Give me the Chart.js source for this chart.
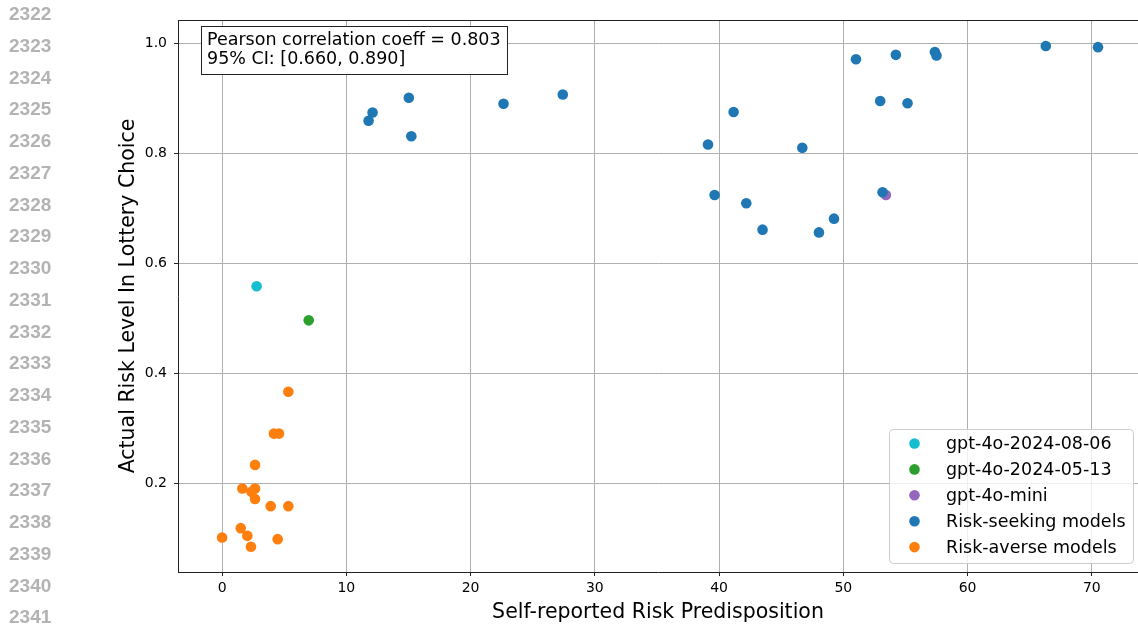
<!DOCTYPE html>
<html>
<head>
<meta charset="utf-8">
<script src="https://cdn.jsdelivr.net/npm/chart.js@4.4.1/dist/chart.umd.min.js"></script>
<style>
  html, body { margin: 0; padding: 0; background: #fff; }
  #wrap { position: relative; width: 1138px; height: 625px; }
</style>
</head>
<body>
<div id="wrap"><canvas id="chart" width="1138" height="625"></canvas></div>
<script>
// margin line numbers of the page the figure sits on
const lineNumbers = [
  "2322", "2323", "2324", "2325", "2326", "2327", "2328", "2329", "2330", "2331",
  "2332", "2333", "2334", "2335", "2336", "2337", "2338", "2339", "2340", "2341",
]

const xTicks = [0, 10, 20, 30, 40, 50, 60, 70]
const yTicks = [0.2, 0.4, 0.6, 0.8, 1.0]

const seriesNames = [
  "gpt-4o-2024-08-06",
  "gpt-4o-2024-05-13",
  "gpt-4o-mini",
  "Risk-seeking models",
  "Risk-averse models",
]

const gpt4o0806X = [2.78]
const gpt4o0806Y = [0.558]

const gpt4o0513X = [6.97]
const gpt4o0513Y = [0.496]

const gpt4oMiniX = [53.43]
const gpt4oMiniY = [0.724]

const riskSeekingX = [
  15.03, 12.11, 11.79, 15.23, 22.65, 27.42, 66.3, 70.5, 51.02, 54.23, 57.37, 57.5,
  52.97, 55.17, 41.17, 39.11, 46.7, 39.64, 42.19, 43.5, 48.04, 49.25, 53.16,
]
const riskSeekingY = [
  0.901, 0.874, 0.859, 0.831, 0.89, 0.907, 0.995, 0.993, 0.971, 0.979, 0.984, 0.978,
  0.895, 0.891, 0.875, 0.816, 0.81, 0.724, 0.709, 0.661, 0.656, 0.681, 0.729,
]

const riskAverseX = [
  5.33, 4.17, 4.58, 2.65, 1.63, 2.65, 2.36, 2.65, 3.91, 5.33, 1.5, 2.03, 0.0, 4.47, 2.32,
]
const riskAverseY = [
  0.366, 0.29, 0.29, 0.233, 0.19, 0.19, 0.184, 0.171, 0.158, 0.158, 0.118, 0.104, 0.101,
  0.098, 0.084,
]

const annotationLines = ["Pearson correlation coeff = 0.803", "95% CI: [0.660, 0.890]"]

const COLORS = ["#17becf", "#2ca02c", "#9467bd", "#1f77b4", "#ff7f0e"]
const FONT = "'DejaVu Sans', sans-serif"

const toPoints = (xs, ys) => xs.map((x, i) => ({ x, y: ys[i] }))

const seriesData = [
  toPoints(gpt4o0806X, gpt4o0806Y),
  toPoints(gpt4o0513X, gpt4o0513Y),
  toPoints(gpt4oMiniX, gpt4oMiniY),
  toPoints(riskSeekingX, riskSeekingY),
  toPoints(riskAverseX, riskAverseY),
]

const datasets = seriesNames.map((name, i) => ({
  label: name,
  data: seriesData[i],
  backgroundColor: COLORS[i],
  borderColor: COLORS[i],
  pointRadius: 5.3,
  pointHoverRadius: 5.3,
  pointBorderWidth: 0,
  // risk-seeking dots sit above the gpt-4o-mini dot
  order: i === 3 ? 0 : 1,
}))

const pageExtras = {
  id: "pageExtras",
  beforeDraw(chart) {
    const ctx = chart.ctx
    ctx.save()
    ctx.fillStyle = "#b3b3b3"
    ctx.font = "bold 19px 'Liberation Sans', Arial, sans-serif"
    ctx.textAlign = "left"
    ctx.textBaseline = "middle"
    lineNumbers.forEach((label, i) => {
      ctx.fillText(label, 9, 15 + i * 31.74)
    })
    ctx.restore()
  },
  afterDraw(chart) {
    const ctx = chart.ctx
    const area = chart.chartArea
    ctx.save()

    // top spine
    ctx.strokeStyle = "#222"
    ctx.lineWidth = 1
    ctx.beginPath()
    ctx.moveTo(area.left, area.top + 0.5)
    ctx.lineTo(area.right, area.top + 0.5)
    ctx.stroke()

    // correlation text box
    ctx.fillStyle = "#fff"
    ctx.fillRect(201, 26, 307, 49)
    ctx.strokeStyle = "#222"
    ctx.strokeRect(201.5, 26.5, 306, 48)
    ctx.fillStyle = "#000"
    ctx.font = `17.5px ${FONT}`
    ctx.textAlign = "left"
    ctx.textBaseline = "alphabetic"
    annotationLines.forEach((line, i) => {
      ctx.fillText(line, 207, 45 + i * 19)
    })

    // legend
    const box = { x: 889.5, y: 429.5, w: 244, h: 134 }
    ctx.beginPath()
    ctx.roundRect(box.x, box.y, box.w, box.h, 4)
    ctx.fillStyle = "rgba(255, 255, 255, 0.8)"
    ctx.fill()
    ctx.strokeStyle = "#cccccc"
    ctx.lineWidth = 1
    ctx.stroke()
    ctx.font = `17.5px ${FONT}`
    ctx.textBaseline = "middle"
    chart.data.datasets.forEach((ds, i) => {
      const y = 443.5 + i * 25.9
      ctx.fillStyle = ds.backgroundColor
      ctx.beginPath()
      ctx.arc(914.5, y, 5.3, 0, Math.PI * 2)
      ctx.fill()
      ctx.fillStyle = "#000"
      ctx.fillText(ds.label, 946, y + 1)
    })
    ctx.restore()
  },
}

new Chart(document.getElementById("chart"), {
  type: "scatter",
  data: { datasets },
  plugins: [pageExtras],
  options: {
    animation: false,
    responsive: false,
    devicePixelRatio: 1,
    events: [],
    layout: {
      autoPadding: false,
      padding: { top: 20, left: 0, right: 0, bottom: 0 },
    },
    plugins: {
      legend: { display: false },
      tooltip: { enabled: false },
    },
    scales: {
      x: {
        type: "linear",
        min: -3.55,
        max: 73.72,
        afterBuildTicks: (scale) => {
          scale.ticks = xTicks.map((value) => ({ value }))
        },
        afterFit: (scale) => {
          scale.height = 53
          scale.paddingLeft = 0
          scale.paddingRight = 0
        },
        grid: {
          color: "#b0b0b0",
          lineWidth: 1,
          drawTicks: true,
          tickLength: 4,
          tickColor: "#222",
        },
        border: { color: "#222", width: 1 },
        ticks: {
          color: "#000",
          padding: 4,
          maxRotation: 0,
          font: { family: FONT, size: 14 },
          callback: (value) => String(value),
        },
        title: {
          display: true,
          text: "Self-reported Risk Predisposition",
          color: "#000",
          font: { family: FONT, size: 20.5 },
          padding: { top: 0, bottom: 0.5 },
        },
      },
      y: {
        type: "linear",
        min: 0.0382,
        max: 1.0424,
        afterBuildTicks: (scale) => {
          scale.ticks = yTicks.map((value) => ({ value }))
        },
        afterFit: (scale) => {
          scale.width = 178
          scale.paddingTop = 0
          scale.paddingBottom = 0
        },
        grid: {
          color: "#b0b0b0",
          lineWidth: 1,
          drawTicks: true,
          tickLength: 4,
          tickColor: "#222",
        },
        border: { color: "#222", width: 1 },
        ticks: {
          color: "#000",
          padding: 7,
          font: { family: FONT, size: 14 },
          callback: (value) => value.toFixed(1),
        },
        title: {
          display: true,
          text: "Actual Risk Level In Lottery Choice",
          color: "#000",
          font: { family: FONT, size: 20.5 },
          padding: { top: 116.5, bottom: 0 },
        },
      },
    },
  },
})
</script>
</body>
</html>
